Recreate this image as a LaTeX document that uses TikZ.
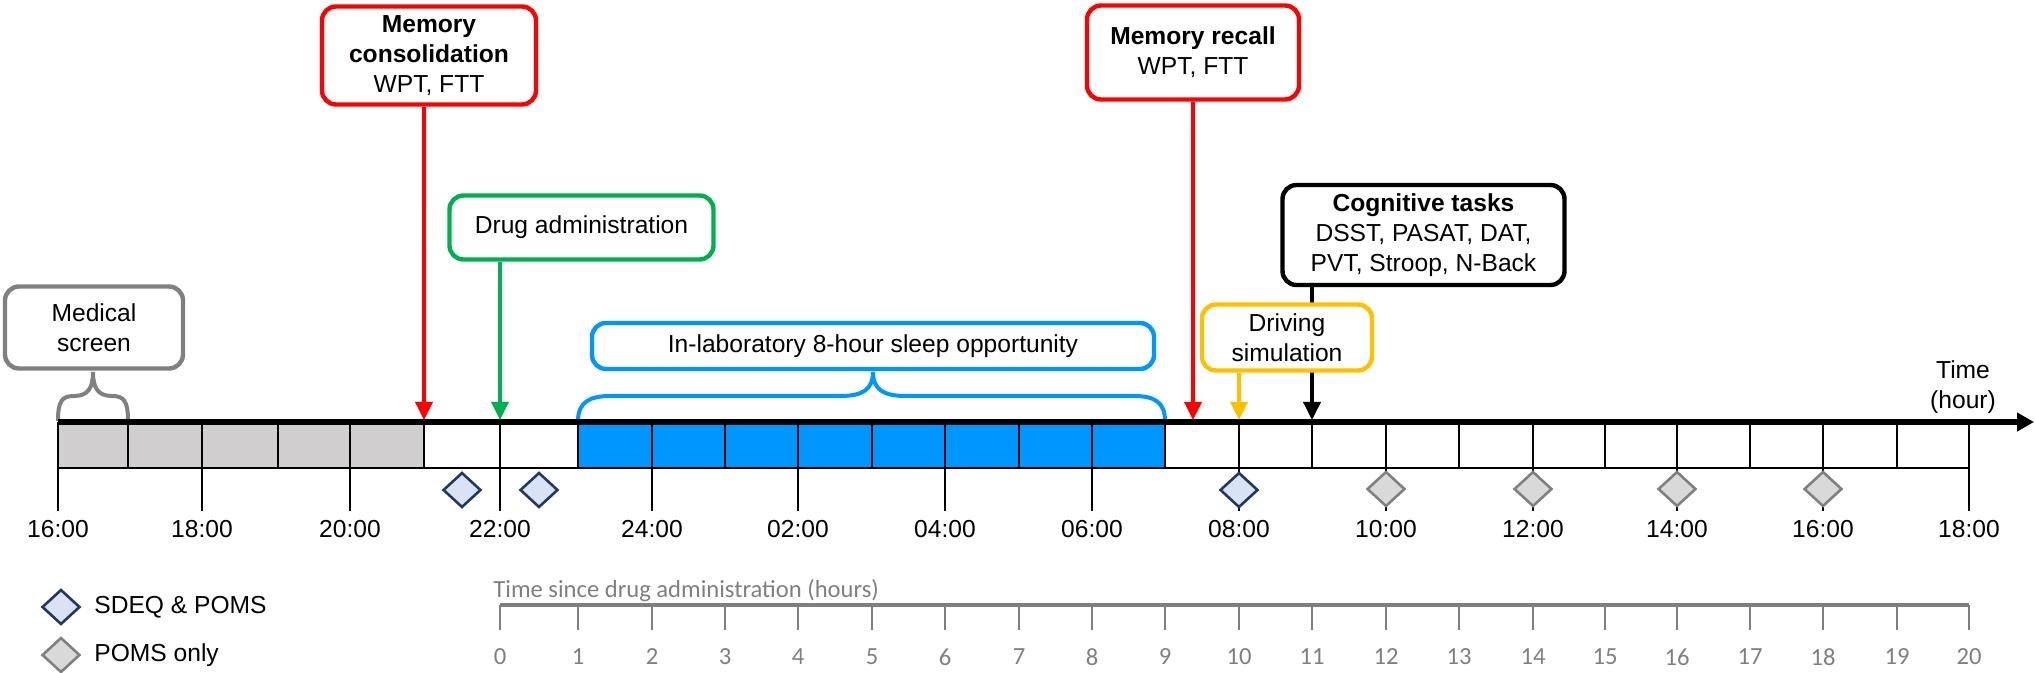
\documentclass[tikz,border=0pt]{standalone}
\usepackage{fontspec}
\setmainfont{Liberation Sans}
\newfontfamily\calibfont{Carlito}
\usetikzlibrary{arrows.meta,shapes.geometric,calc}
\definecolor{memred}{RGB}{255,0,0}
\definecolor{druggreen}{RGB}{0,176,80}
\definecolor{sleepblue}{RGB}{0,150,255}
\definecolor{drvyellow}{RGB}{255,192,0}
\definecolor{medgray}{RGB}{128,128,128}
\definecolor{cellgray}{RGB}{208,206,206}
\definecolor{navyline}{RGB}{32,56,100}
\definecolor{navyfill}{RGB}{218,227,243}
\definecolor{pomsline}{RGB}{128,128,128}
\definecolor{pomsfill}{RGB}{217,217,217}
\definecolor{axgray}{RGB}{127,127,127}
\tikzset{
  lbl/.style={font=\fontsize{12.3}{15}\selectfont, inner sep=0pt},
  evbox/.style={draw, line width=2.2pt, rounded corners=7pt, fill=white, align=center,
    inner sep=0pt, font=\fontsize{12.3}{15}\selectfont},
  evarrow/.style={line width=1.8pt, -{Triangle[length=9pt,width=8.5pt]}},
  thinline/.style={line width=1.3pt, black},
  sdeq/.style={diamond, draw=navyline, fill=navyfill, line width=1.3pt, inner sep=0pt,
    minimum width=19pt, minimum height=17.5pt},
  poms/.style={diamond, draw=pomsline, fill=pomsfill, line width=1.3pt, inner sep=0pt,
    minimum width=19pt, minimum height=17.5pt},
  bracegray/.style={draw=medgray, line width=2pt},
  braceblue/.style={draw=sleepblue, line width=2pt},
  axnum/.style={font=\calibfont\fontsize{12.3}{14}\selectfont, text=axgray, inner sep=0pt},
}
\begin{document}
\begin{tikzpicture}[x=0.5pt,y=-0.5pt]
\useasboundingbox (0,0) rectangle (2035,673);
\def\hourxs{58,128,202,278,350,424,500,578,652,725,798,872,945,1019,1092,1165,1239,1312,1386,1459,1533,1605,1677,1750,1823,1897,1969}
\foreach \x [count=\i from 0] in \hourxs { \coordinate (h\i) at (\x,420); }

% bar fills
\fill[cellgray] (58,422) rectangle (424,468);
\fill[sleepblue] (578,422) rectangle (1165,468);
% cell dividers
\foreach \x in \hourxs { \draw[thinline] (\x,422) -- (\x,468); }
% major ticks
\foreach \x in {58,202,350,500,652,798,945,1092,1239,1386,1533,1677,1823,1969} { \draw[thinline] (\x,468) -- (\x,511); }
\draw[thinline] (58,468) -- (1969,468);

% braces
\draw[bracegray] (58,421) .. controls (58,401) and (62,396) .. (74,396) .. controls (88,396) and (93,388) .. (93,372) .. controls (93,388) and (98,396) .. (112,396) .. controls (124,396) and (128,401) .. (128,421);
\draw[braceblue] (578,421) .. controls (578,402) and (590,396) .. (610,396) -- (840,396) .. controls (862,396) and (873,390) .. (873,372) .. controls (873,390) and (884,396) .. (906,396) -- (1134,396) .. controls (1154,396) and (1165,402) .. (1165,421);

% main time axis
\draw[line width=2.8pt, -{Triangle[length=8.5pt,width=9pt]}] (58,422) -- (2034,422);

% hour labels
\foreach \x/\l in {58/16:00,202/18:00,350/20:00,500/22:00,652/24:00,798/02:00,945/04:00,1092/06:00,1239/08:00,1386/10:00,1533/12:00,1677/14:00,1823/16:00,1969/18:00}
  { \node[lbl] at (\x,529) {\l}; }
\node[lbl, align=center] (timelbl) at (1963,387) {Time\\(hour)};

% event boxes and connectors
\node[evbox, draw=memred, minimum width=107pt, minimum height=49pt] (mc) at (429,55.5)
  {\textbf{Memory}\\\textbf{consolidation}\\WPT, FTT};
\node[evbox, draw=memred, minimum width=106pt, minimum height=47pt] (mr) at (1193,52.5)
  {\textbf{Memory recall}\\WPT, FTT};
\node[evbox, draw=druggreen, minimum width=132pt, minimum height=32pt] (drug) at (581.5,227.5)
  {Drug administration};
\node[evbox, draw=medgray, minimum width=89pt, minimum height=41pt] (med) at (94,327.5)
  {Medical\\screen};
\node[evbox, draw=sleepblue, minimum width=281pt, minimum height=23pt] (sleep) at (873,346)
  {In-laboratory 8-hour sleep opportunity};
\node[evbox, draw=black, minimum width=141pt, minimum height=50pt] (cog) at (1423.5,235)
  {\textbf{Cognitive tasks}\\DSST, PASAT, DAT,\\PVT, Stroop, N-Back};
\draw[evarrow, black] (cog.south -| h17) -- (h17);
\node[evbox, draw=drvyellow, minimum width=85pt, minimum height=33pt] (drv) at (1287,337.5)
  {Driving\\simulation};

\draw[evarrow, memred] (mc.south -| h5) -- (h5);
\draw[evarrow, druggreen] (drug.south -| h6) -- (h6);
\draw[evarrow, memred] (mr.south) -- (mr.south |- h0);
\draw[evarrow, drvyellow] (drv.south -| h16) -- (h16);

% questionnaire diamonds
\node[sdeq] (q1) at (462,490) {};
\node[sdeq] (q2) at (539,490) {};
\node[sdeq] (q3) at (1239,490) {};
\node[poms] (p1) at (1386,489) {};
\node[poms] (p2) at (1533,489) {};
\node[poms] (p3) at (1677,489) {};
\node[poms] (p4) at (1823,489) {};

% legend
\node[sdeq] (leg1) at (61,607) {};
\node[lbl, anchor=west] (leg1t) at (94,607) {SDEQ \& POMS};
\node[poms] (leg2) at (61,655) {};
\node[lbl, anchor=west] (leg2t) at (94,655) {POMS only};

% time since drug administration axis
\node[axnum, anchor=west] (axtitle) at (493,591) {Time since drug administration (hours)};
\draw[axgray, line width=1.8pt] (500,605) -- (1969,605);
\foreach \x [count=\i from 0] in {500,578,652,725,798,872,945,1019,1092,1165,1239,1312,1386,1459,1533,1605,1677,1750,1823,1897,1969}
  { \draw[axgray, line width=1pt] (\x,605) -- (\x,630);
    \node[axnum] (ax\i) at (\x,657) {\i}; }
\end{tikzpicture}
\end{document}
